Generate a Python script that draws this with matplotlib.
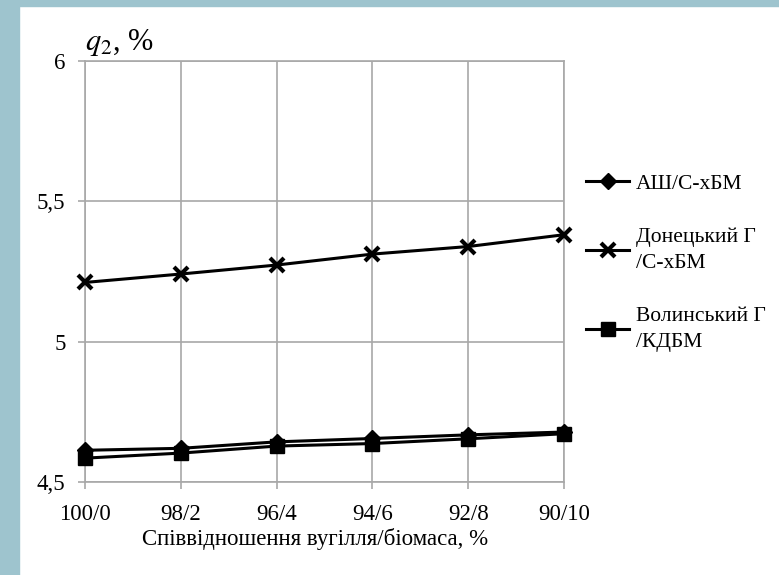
import matplotlib
matplotlib.use("Agg")
import matplotlib.pyplot as plt
from matplotlib.patches import Rectangle

# data
ratios = ["100/0", "98/2", "96/4", "94/6", "92/8", "90/10"]
ash = [4.613, 4.620, 4.643, 4.655, 4.668, 4.678]        # АШ/С-хБМ
donetsk = [5.211, 5.241, 5.273, 5.312, 5.339, 5.381]    # Донецький Г /С-хБМ
volyn = [4.585, 4.603, 4.628, 4.637, 4.654, 4.672]      # Волинський Г /КДБМ
yticks = [4.5, 5, 5.5, 6]
ylabels = ["4,5", "5", "5,5", "6"]

plt.rcParams['font.family'] = ['Liberation Serif', 'DejaVu Serif']
plt.rcParams['mathtext.fontset'] = 'stix'

fig = plt.figure(figsize=(7.79, 5.75), dpi=100)
# blue frame strips
fig.patches.append(Rectangle((0, 0), 19 / 779, 1, transform=fig.transFigure, color='#9ec4ce', zorder=0))
fig.patches.append(Rectangle((0, 1 - 6 / 575), 1, 6 / 575, transform=fig.transFigure, color='#9ec4ce', zorder=0))

ax = fig.add_axes([85 / 779, 1 - 482 / 575, (564 - 85) / 779, (482 - 61) / 575])
x = list(range(len(ratios)))

ax.plot(x, ash, color='black', lw=2.2, marker='D', ms=8, label='АШ/С-хБМ', zorder=3, clip_on=False)
ax.plot(x, donetsk, color='black', lw=2.2, marker='x', ms=10, mew=3, label='Донецький Г\n/С-хБМ', zorder=3, clip_on=False)
ax.plot(x, volyn, color='black', lw=2.2, marker='s', ms=10.5, label='Волинський Г\n/КДБМ', zorder=3, clip_on=False)

ax.set_xlim(0, 5)
ax.set_ylim(4.5, 6)
ax.set_xticks(x)
ax.set_xticklabels(ratios, fontsize=16.5)
ax.set_yticks(yticks)
ax.set_yticklabels(ylabels, fontsize=16.5)
ax.grid(True, color='#a8a8a8', lw=1.2)
for s in ax.spines.values():
    s.set_color('#a8a8a8')
    s.set_linewidth(1.2)
ax.tick_params(axis='both', color='#a8a8a8', length=5, width=1.2)
ax.tick_params(axis='x', pad=11)
ax.tick_params(axis='y', pad=9)

ax.set_xlabel('Співвідношення вугілля/біомаса, %', fontsize=16.5, labelpad=1)
ax.xaxis.set_label_coords((315 - 85) / 479, -0.11)
fig.text(85 / 779, 1 - 43 / 575, r'$q_2$, %', fontsize=22, ha='left', va='center')

leg = ax.legend(loc='center left', bbox_to_anchor=(586 / 779, 1 - 263 / 575), bbox_transform=fig.transFigure,
                frameon=False, fontsize=15.5, labelspacing=1.55, handlelength=2.0, handletextpad=0.3,
                borderpad=0, borderaxespad=0)
for t in leg.get_texts():
    t.set_linespacing(1.55)

fig.savefig('out.png', dpi=100)
